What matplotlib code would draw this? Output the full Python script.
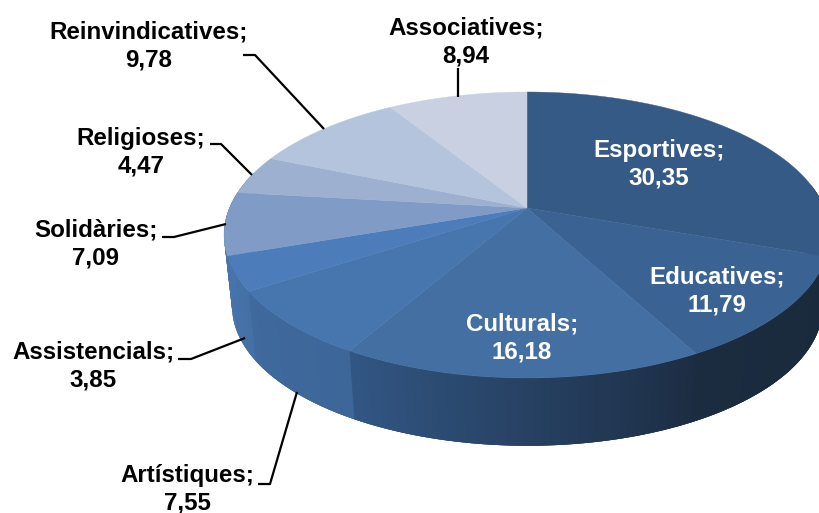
import numpy as np
import matplotlib
matplotlib.use("Agg")
import matplotlib.pyplot as plt
from matplotlib.colors import to_rgb

plt.rcParams['font.family'] = ['Liberation Sans', 'DejaVu Sans']

categories = ["Esportives", "Educatives", "Culturals", "Artístiques", "Assistencials",
              "Solidàries", "Religioses", "Reinvindicatives", "Associatives"]
values = [30.35, 11.79, 16.18, 7.55, 3.85, 7.09, 4.47, 9.78, 8.94]
value_labels = ["30,35", "11,79", "16,18", "7,55", "3,85", "7,09", "4,47", "9,78", "8,94"]

top_colors = ["#355a85", "#3a6394", "#436fa3", "#4776af", "#4c7cb9",
              "#7f9bc6", "#9db0d0", "#b4c4dc", "#c8d0e2"]
# wall colour at the start and end of each slice (clockwise)
wall_start = ["#1a2a3c", "#1a2a3c", "#1c2d43", "#3d6699", "#4470a5", "#4674ab", "#4674ab", "#4674ab", "#4674ab"]
wall_end = ["#1a2a3c", "#1b2c40", "#325785", "#3f6a9d", "#4674ab", "#4674ab", "#4674ab", "#4674ab", "#4674ab"]

label_pos = [(659, 164), (717, 291), (522, 338), (187, 489), (93, 366),
             (96, 244), (141, 152), (149, 46), (466, 42)]
label_white = [True, True, True, False, False, False, False, False, False]
leaders = {
    "Associatives": [(458, 68), (458, 97)],
    "Reinvindicatives": [(243, 55), (255, 55), (324, 129)],
    "Religioses": [(210, 144), (221, 144), (252, 175)],
    "Solidàries": [(162, 237), (174, 237), (226, 224)],
    "Assistencials": [(178, 359), (191, 359), (245, 338)],
    "Artístiques": [(258, 484), (270, 484), (297, 392)],
}

# perspective of the pie disc, in pixels
cx, cy = 527, 208
a, b, k = 297.5, 137.9, -0.1888
wall_dx, wall_dy, wall_scale = 0.5, 72, 0.975


def project(deg, dx=0, dy=0, s=1.0):
    t = np.radians(deg)
    u, v = np.sin(t), -np.cos(t)
    den = 1 + k * v
    return cx + dx + s * a * u / den, cy + dy + s * b * v / den


fig = plt.figure(figsize=(8.2, 5.13), dpi=100)
ax = fig.add_axes([0, 0, 1, 1])
ax.set_xlim(0, 820)
ax.set_ylim(513, 0)
ax.axis("off")

edges = np.concatenate([[0], np.cumsum(values)]) / sum(values) * 360

# side wall first, the top face covers what is behind it
# each strip runs on under the next one so no seams show
for i in range(len(values)):
    start, end = edges[i], edges[i + 1]
    n = max(2, int((end - start) * 2))
    ts = np.linspace(start, end, n + 1)
    c0, c1 = np.array(to_rgb(wall_start[i])), np.array(to_rgb(wall_end[i]))
    for j in range(n):
        if not 80 < ts[j] < 285:
            continue
        t_end = ts[j] + 1.5
        top_x, top_y = project(np.linspace(ts[j], t_end, 4))
        low_x, low_y = project(np.linspace(t_end, ts[j], 4), wall_dx, wall_dy, wall_scale)
        col = c0 + (c1 - c0) * j / n
        ax.fill(np.r_[top_x, low_x], np.r_[top_y, low_y], color=col, lw=0, zorder=1)

for i in range(len(values)):
    ts = np.linspace(edges[i], edges[i + 1], 120)
    xs, ys = project(ts)
    ax.fill(np.r_[cx, xs], np.r_[cy, ys], color=top_colors[i], lw=0.3, zorder=2)

for name, pts in leaders.items():
    xs, ys = zip(*pts)
    ax.plot(xs, ys, color="black", lw=1.6, zorder=3, solid_capstyle="butt")

for name, val, pos, white in zip(categories, value_labels, label_pos, label_white):
    ax.text(pos[0], pos[1], name + ";\n" + val, ha="center", va="center", fontsize=17.4,
            fontweight="bold", linespacing=1.26, color="white" if white else "black", zorder=4)

fig.savefig("out.png", dpi=100)
